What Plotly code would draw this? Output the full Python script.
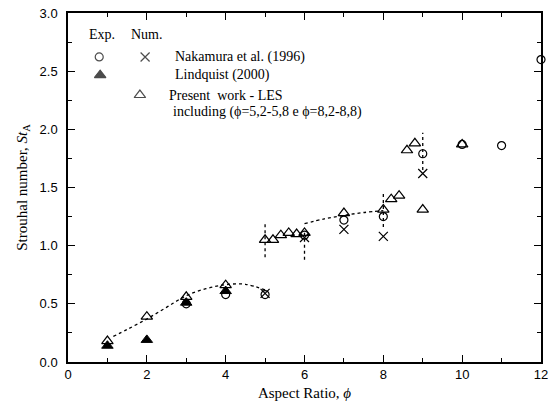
import plotly.graph_objects as go

# ---- data ----
nak_exp_x = [3, 4, 5, 6, 7, 8, 9, 10, 11, 12]
nak_exp_y = [0.50, 0.58, 0.58, 1.09, 1.22, 1.25, 1.79, 1.87, 1.86, 2.60]

nak_num_x = [5, 6, 7, 8, 9]
nak_num_y = [0.59, 1.07, 1.14, 1.08, 1.62]

lind_x = [1, 2, 3, 4]
lind_y = [0.14, 0.19, 0.51, 0.61]

les_x = [1, 2, 3, 4, 5, 5.2, 5.4, 5.6, 5.8, 6, 7, 8, 8.2, 8.4, 8.6, 8.8, 9, 10]
les_y = [0.18, 0.39, 0.56, 0.66, 1.05, 1.05, 1.09, 1.11, 1.10, 1.11, 1.28, 1.31,
         1.40, 1.43, 1.82, 1.88, 1.31, 1.87]

trend1_x = [1.15, 1.5, 2.0, 2.5, 3.0, 3.5, 4.0, 4.5, 5.0]
trend1_y = [0.22, 0.28, 0.37, 0.47, 0.57, 0.63, 0.665, 0.668, 0.62]

trend2_x = [6.0, 6.5, 7.0, 7.5, 8.0]
trend2_y = [1.19, 1.23, 1.26, 1.285, 1.30]

vline_x = [5, 6, 8, 9]
vline_lo = [0.90, 0.88, 1.16, 1.65]
vline_hi = [1.20, 1.12, 1.46, 1.97]

x_ticks = [0, 2, 4, 6, 8, 10, 12]
y_ticks = [0.0, 0.5, 1.0, 1.5, 2.0, 2.5, 3.0]

SERIF = "Liberation Serif, Times New Roman, serif"
SANS = "Liberation Sans, Arial, sans-serif"

fig = go.Figure()

dot_line = dict(color="black", width=1.3, dash="dot")
fig.add_trace(go.Scatter(x=trend1_x, y=trend1_y, mode="lines", line=dot_line,
                         line_shape="spline", showlegend=False, hoverinfo="skip"))
fig.add_trace(go.Scatter(x=trend2_x, y=trend2_y, mode="lines", line=dot_line,
                         line_shape="spline", showlegend=False, hoverinfo="skip"))
vx, vy = [], []
for xv, lo, hi in zip(vline_x, vline_lo, vline_hi):
    vx += [xv, xv, None]
    vy += [lo, hi, None]
fig.add_trace(go.Scatter(x=vx, y=vy, mode="lines", line=dot_line,
                         showlegend=False, hoverinfo="skip"))

fig.add_trace(go.Scatter(x=lind_x, y=lind_y, mode="markers", cliponaxis=False,
                         marker=dict(symbol="triangle-up", size=10, color="black", line=dict(color="black", width=1)),
                         showlegend=False))
fig.add_trace(go.Scatter(x=nak_exp_x, y=nak_exp_y, mode="markers", cliponaxis=False,
                         marker=dict(symbol="circle-open", size=8, color="black", line=dict(width=1.2)),
                         showlegend=False))
fig.add_trace(go.Scatter(x=nak_num_x, y=nak_num_y, mode="markers", cliponaxis=False,
                         marker=dict(symbol="x-thin-open", size=9, color="black", line=dict(width=1.2)),
                         showlegend=False))
fig.add_trace(go.Scatter(x=les_x, y=les_y, mode="markers", cliponaxis=False,
                         marker=dict(symbol="triangle-up-open", size=10, color="black", line=dict(width=1.2)),
                         showlegend=False))

# legend markers on overlay axes (fraction of plot area)
leg_sym = ["circle-open", "x-thin-open", "triangle-up", "triangle-up-open"]
leg_fx = [0.066, 0.163, 0.068, 0.152]
leg_fy = [0.874, 0.874, 0.822, 0.765]
leg_size = [8, 9, 10, 10]
fig.add_trace(go.Scatter(x=leg_fx, y=leg_fy, xaxis="x2", yaxis="y2", mode="markers",
                         marker=dict(symbol=leg_sym, size=leg_size, color="black", line=dict(color="black", width=1.2)),
                         showlegend=False, hoverinfo="skip"))

leg_texts = [
    ("Exp.", 0.071, 0.937, "center"),
    ("Num.", 0.166, 0.937, "center"),
    ("Nakamura et al. (1996)", 0.221, 0.874, "left"),
    ("Lindquist (2000)", 0.221, 0.822, "left"),
    ("Present  work - LES", 0.210, 0.765, "left"),
    ("including (\u03d5=5,2-5,8 e \u03d5=8,2-8,8)", 0.217, 0.716, "left"),
]
for t, ax_, ay_, xa in leg_texts:
    fig.add_annotation(text=t, x=ax_, y=ay_, xref="paper", yref="paper", xanchor=xa, yanchor="middle",
                       showarrow=False, font=dict(family=SERIF, size=14, color="black"))

axis_common = dict(showline=True, linecolor="black", linewidth=1.5, mirror="allticks",
                   ticks="inside", ticklen=7, tickwidth=1.2, tickcolor="black",
                   showgrid=False, zeroline=False, automargin=False,
                   tickfont=dict(family=SANS, size=13, color="black"))

fig.update_layout(
    width=553, height=414,
    margin=dict(l=68, r=12, t=13, b=52),
    paper_bgcolor="white", plot_bgcolor="white",
    xaxis=dict(range=[0, 12], tickvals=x_ticks, ticktext=[str(v) for v in x_ticks],
               minor=dict(ticks="inside", dtick=1, tick0=0, ticklen=4, tickwidth=1.2, tickcolor="black"),
               title=dict(text="Aspect Ratio, <i>\u03d5</i>", font=dict(family=SERIF, size=15, color="black"), standoff=6),
               **axis_common),
    yaxis=dict(range=[0, 3], tickvals=y_ticks, ticktext=[f"{v:.1f}" for v in y_ticks],
               minor=dict(ticks="inside", dtick=0.25, tick0=0, ticklen=4, tickwidth=1.2, tickcolor="black"),
               title=dict(text="Strouhal number, <i>St</i><sub>A</sub>", font=dict(family=SERIF, size=15, color="black"), standoff=8),
               ticklabelstandoff=6,
               **axis_common),
    xaxis2=dict(overlaying="x", range=[0, 1], visible=False),
    yaxis2=dict(overlaying="y", range=[0, 1], visible=False),
)

fig.write_html("out.html", config={"displayModeBar": False},
               post_script="document.body.style.margin='0';document.body.style.padding='0';")
